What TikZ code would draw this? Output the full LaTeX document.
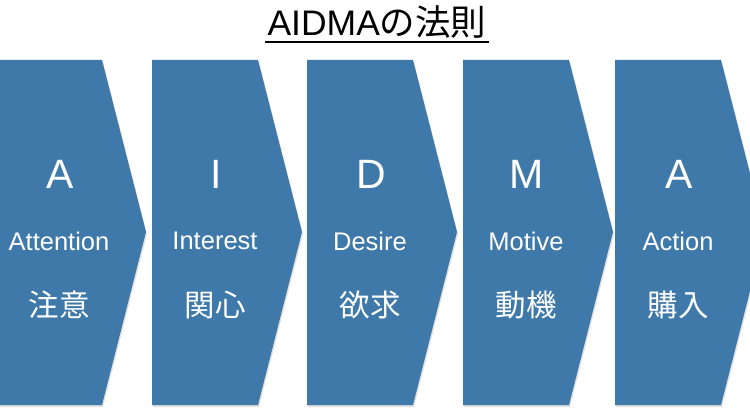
\documentclass[tikz,border=0pt]{standalone}
\usepackage{fontspec}
\setmainfont{Liberation Sans}
\newfontfamily\jpfont{Noto Sans CJK JP}
\newfontfamily\latfont{Liberation Sans}
\definecolor{chevblue}{RGB}{62,121,170}
\tikzset{
  chev/.style={fill=chevblue, draw=none},
  shadowchev/.style={fill=black, opacity=0.12, draw=none},
  bigletter/.style={text=white, font=\latfont\fontsize{41}{44}\selectfont, anchor=center, inner sep=0pt},
  engword/.style={text=white, font=\latfont\fontsize{25.5}{28}\selectfont, anchor=center, inner sep=0pt},
  jpword/.style={text=white, font=\jpfont\fontsize{30.5}{33}\selectfont, anchor=center, inner sep=0pt},
  titletext/.style={text=black, font=\fontsize{35.5}{38}\selectfont, anchor=center, inner sep=0pt}
}
\begin{document}
\begin{tikzpicture}[x=1pt,y=-1pt]
\useasboundingbox (0,0) rectangle (750,420);
\fill[white] (0,0) rectangle (750,420);
\node[titletext] (title) at (377,22) {{\latfont AIDMA}{\jpfont の法則}};
\draw[line width=2pt] (265,42) -- (489,42);
\foreach \L/\n/\big/\eng/\jp in {-4/a/A/Attention/注意, 152/i/I/Interest/関心, 307/d/D/Desire/欲求, 463/m/M/Motive/動機, 615/b/A/Action/購入}{
  \fill[shadowchev] (\L+1,62) -- (\L+107,62) -- (\L+151,234) -- (\L+107,407) -- (\L+1,407) -- cycle;
  \fill[chev] (\L,60) -- (\L+106,60) -- (\L+150,232) -- (\L+106,405) -- (\L,405) -- cycle;
  \node[bigletter] (\n1) at (\L+64,174) {\big};
  \node[engword] (\n2) at (\L+63,241) {\eng};
  \node[jpword] (\n3) at (\L+63,305) {\jp};
}
\end{tikzpicture}
\end{document}
